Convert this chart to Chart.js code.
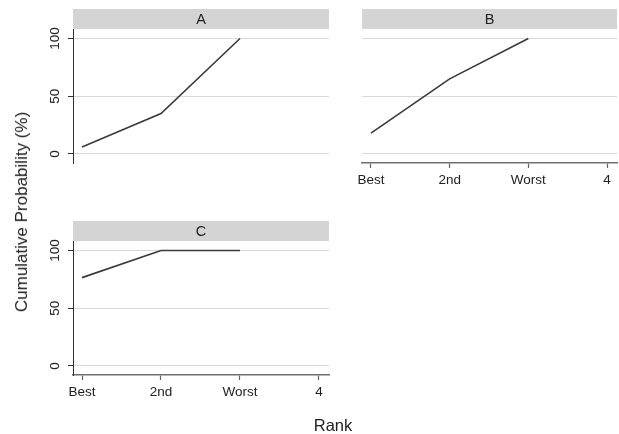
<!DOCTYPE html>
<html><head><meta charset="utf-8">
<script src="https://cdn.jsdelivr.net/npm/chart.js@4/dist/chart.umd.min.js"></script>
<style>
html,body{margin:0;padding:0;background:#fff;width:619px;height:434px;overflow:hidden;position:relative;font-family:"Liberation Sans",Arial,sans-serif;}
canvas{position:absolute;left:0;top:0;}
#ytitle{position:absolute;left:22px;top:212px;transform:translate(-50%,-50%) rotate(-90deg);font-size:17px;color:#222;white-space:nowrap;}
#xtitle{position:absolute;left:333px;top:425px;transform:translate(-50%,-50%);font-size:16.5px;color:#222;white-space:nowrap;}
</style></head><body>
<canvas id="cA" width="619" height="434"></canvas>
<canvas id="cB" width="619" height="434"></canvas>
<canvas id="cC" width="619" height="434"></canvas>
<div id="ytitle">Cumulative Probability (%)</div>
<div id="xtitle">Rank</div>
<script>
// ---- data ----
const categories = ['Best', '2nd', 'Worst', '4'];
const panelLabels = ['A', 'B', 'C'];
const yTickValues = [0, 50, 100];
const seriesA = [6, 35, 100];
const seriesB = [18, 65, 100];
const seriesC = [76.5, 100, 100];

Chart.defaults.font.family = '"Liberation Sans", Arial, sans-serif';
Chart.defaults.color = '#222';

const headerPlugin = {
  id: 'header',
  beforeDraw(chart, args, opts) {
    const {ctx, chartArea} = chart;
    const {left, right, top} = chartArea;
    ctx.save();
    ctx.fillStyle = '#d4d4d4';
    ctx.fillRect(left, top - opts.h, right - left, opts.h);
    ctx.fillStyle = '#222';
    ctx.font = '14.5px "Liberation Sans", Arial, sans-serif';
    ctx.textAlign = 'center';
    ctx.textBaseline = 'middle';
    ctx.fillText(opts.text, (left + right) / 2, top - opts.h / 2 + 0.5);
    ctx.restore();
  }
};

function makeChart(id, label, values, o) {
  return new Chart(document.getElementById(id), {
    type: 'line',
    data: {
      datasets: [{
        data: values.map((v, i) => ({x: i + 1, y: v})),
        borderColor: '#3a3a3a', borderWidth: 1.6,
        pointRadius: 0, fill: false, tension: 0
      }]
    },
    options: {
      responsive: false, animation: false, events: [],
      layout: {padding: o.padding},
      plugins: {legend: {display: false}, tooltip: {enabled: false}, header: {text: label, h: 20}},
      scales: {
        x: {
          type: 'linear', min: 0.886, max: 4.127, display: o.showX,
          afterBuildTicks: s => { s.ticks = categories.map((c, i) => ({value: i + 1})); },
          afterFit: s => { s.height = o.showX ? 30 : 0; },
          grid: {display: true, drawOnChartArea: false, drawTicks: true, tickLength: 5, tickColor: '#666', tickWidth: 1.2},
          border: {display: true, color: '#707070', width: 1.5},
          ticks: {callback: v => categories[Math.round(v) - 1], maxRotation: 0, minRotation: 0, autoSkip: false,
                  padding: 4, color: '#222', font: {size: 13.5}}
        },
        y: {
          min: -7.8, max: 108.2,
          afterBuildTicks: s => { s.ticks = yTickValues.map(v => ({value: v})); },
          afterFit: s => { s.width = o.yWidth; },
          grid: {color: '#d9d9d9', lineWidth: 1, drawTicks: o.showYAxis, tickLength: 5, tickColor: '#333'},
          border: {display: o.showYAxis, color: '#333', width: 1},
          ticks: {display: o.showYAxis, minRotation: 90, maxRotation: 90, crossAlign: 'center',
                  padding: 1, color: '#222', font: {size: 13.5}}
        }
      }
    },
    plugins: [headerPlugin]
  });
}

makeChart('cA', panelLabels[0], seriesA, {showX: false, showYAxis: true, yWidth: 30,
  padding: {left: 43, top: 29, right: 290, bottom: 271}});
makeChart('cB', panelLabels[1], seriesB, {showX: true, showYAxis: false, yWidth: 0,
  padding: {left: 362, top: 29, right: 2, bottom: 241}});
makeChart('cC', panelLabels[2], seriesC, {showX: true, showYAxis: true, yWidth: 30,
  padding: {left: 43, top: 241, right: 290, bottom: 29}});
</script>
</body></html>
